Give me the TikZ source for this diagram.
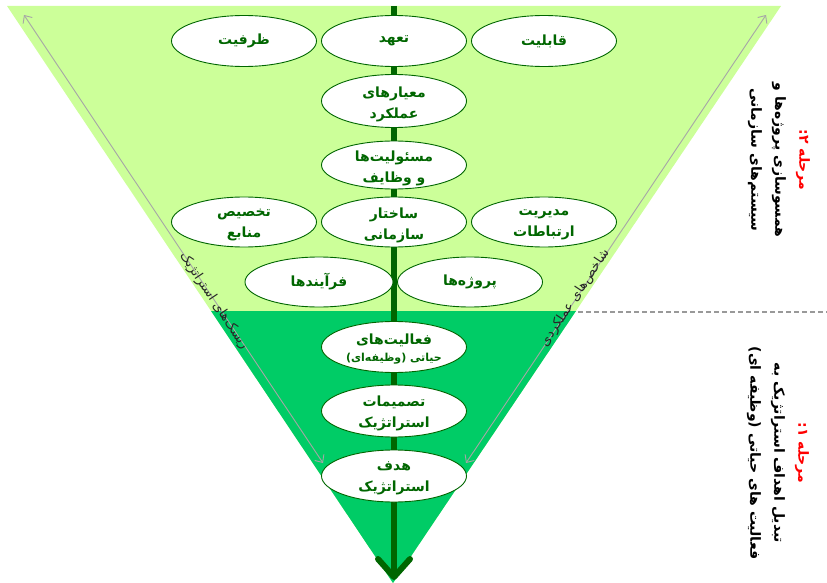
\documentclass[tikz,border=0pt]{standalone}
\usepackage{fontspec}
\usetikzlibrary{shapes.geometric,arrows.meta}
\newfontfamily\arabicfont[Script=Arabic]{DejaVu Sans}
\TeXXeTstate=1
\newcommand{\fa}[1]{\beginR #1\endR}
\definecolor{lightg}{HTML}{CCFF99}
\definecolor{darkg}{HTML}{00CC66}
\definecolor{arrowg}{HTML}{006600}
\definecolor{edgegrey}{HTML}{A6A6A6}
\definecolor{dashgrey}{HTML}{999999}
\definecolor{phasered}{HTML}{FF0000}
% \ovalnode[extra oval options]{name}{position}{text yshift}{text}
\newcommand{\ovalnode}[5][]{%
  \node[oval,#1] (#2) at (#3) {};
  \node[ovaltext] (#2-text) at ([yshift=#4]#2.center) {#5};}
\begin{document}
\begin{tikzpicture}[x=1pt,y=-1pt,
  oval/.style={ellipse, draw=arrowg, line width=0.9pt, fill=white,
    minimum width=145pt, minimum height=51pt, inner sep=0pt},
  ovaltext/.style={align=center, inner sep=0pt, text=arrowg,
    font=\arabicfont\bfseries\fontsize{14}{21}\selectfont},
  mainarrow/.style={draw=arrowg, line width=6pt,
    -{Straight Barb[length=18pt,width=32pt,round]}},
  edgearrow/.style={draw=edgegrey, line width=0.9pt,
    {Straight Barb[length=6pt,width=11pt]}-{Straight Barb[length=6pt,width=11pt]}},
  edgelabel/.style={inner sep=0pt, text=black!85,
    font=\arabicfont\fontsize{13}{15}\selectfont},
  phase/.style={align=center, inner sep=0pt, text=black,
    font=\arabicfont\bfseries\fontsize{14}{24}\selectfont},
  dashline/.style={draw=dashgrey, line width=1.2pt, dash pattern=on 5pt off 3pt}
]
\useasboundingbox (0,0) rectangle (827,583);

% triangle regions
\fill[lightg] (7,6) -- (781,6) -- (393,583) -- cycle;
\fill[darkg] (211,311) -- (576,311) -- (393,583) -- cycle;

% central arrow
\coordinate (top) at (394,6);
\coordinate (apex) at (394,580);
\draw[mainarrow] (top) -- (apex);

% dashed separator
\coordinate (dashL) at (578,312);
\coordinate (dashR) at (827,312);
\draw[dashline] (dashL) -- (dashR);

% edge arrows
\coordinate (LT) at (24,15);
\coordinate (LB) at (323,463);
\coordinate (RT) at (766,15);
\coordinate (RB) at (466,463);
\draw[edgearrow] (LT) -- (LB);
\draw[edgearrow] (RT) -- (RB);
\node[edgelabel, rotate=-56.4] (risk) at (214,301) {\fa{ریسک^^^^200cهای استراتژیک}};
\node[edgelabel, rotate=56.4] (shakhes) at (575,298) {\fa{شاخص^^^^200cهای عملکردی}};

% ellipses
\ovalnode{zarfiat}{244,41}{0pt}{\fa{ظرفیت}}
\ovalnode{taahod}{394,41}{0pt}{\fa{تعهد}}
\ovalnode{ghabeliat}{544,41}{0pt}{\fa{قابلیت}}
\ovalnode[minimum height=53pt]{meyar}{394,101}{-3pt}{\fa{معیارهای}\\\fa{عملکرد}}
\ovalnode[minimum height=48pt]{masouliat}{394,165}{-3pt}{\fa{مسئولیت^^^^200cها}\\\fa{و وظایف}}
\ovalnode[minimum height=50pt]{takhsis}{244,222}{-3pt}{\fa{تخصیص}\\\fa{منابع}}
\ovalnode[minimum height=50pt]{sakhtar}{394,222}{-3pt}{\fa{ساختار}\\\fa{سازمانی}}
\ovalnode[minimum height=50pt]{modiriat}{544,222}{-3pt}{\fa{مدیریت}\\\fa{ارتباطات}}
\ovalnode[minimum height=50pt, minimum width=148pt]{farayand}{319,282}{0pt}{\fa{فرآیندها}}
\ovalnode[minimum height=50pt]{projeha}{470,282}{0pt}{\fa{پروژه^^^^200cها}}
\ovalnode{faaliat}{394,347}{-2pt}{\fa{فعالیت^^^^200cهای}\\[-4pt]{\fontsize{11}{13}\selectfont\fa{حیاتی (وظیفه^^^^200cای)}}}
\ovalnode[minimum height=52pt]{tasmimat}{394,411}{-2pt}{\fa{تصمیمات}\\\fa{استراتژیک}}
\ovalnode[minimum height=52pt]{hadaf}{394,476}{-2pt}{\fa{هدف}\\\fa{استراتژیک}}

% phase texts
\node[phase, rotate=-90] (phase2) at (779,160)
  {\textcolor{phasered}{\fa{مرحله ۲:}}\\\fa{همسوسازی پروژه^^^^200cها و}\\\fa{سیستم^^^^200cهای سازمانی}};
\node[phase, rotate=-90] (phase1) at (778,453)
  {\textcolor{phasered}{\fa{مرحله ۱:}}\\\fa{تبدیل اهداف استراتژیک به}\\\fa{فعالیت های حیاتی (وظیفه ای)}};
\end{tikzpicture}
\end{document}
